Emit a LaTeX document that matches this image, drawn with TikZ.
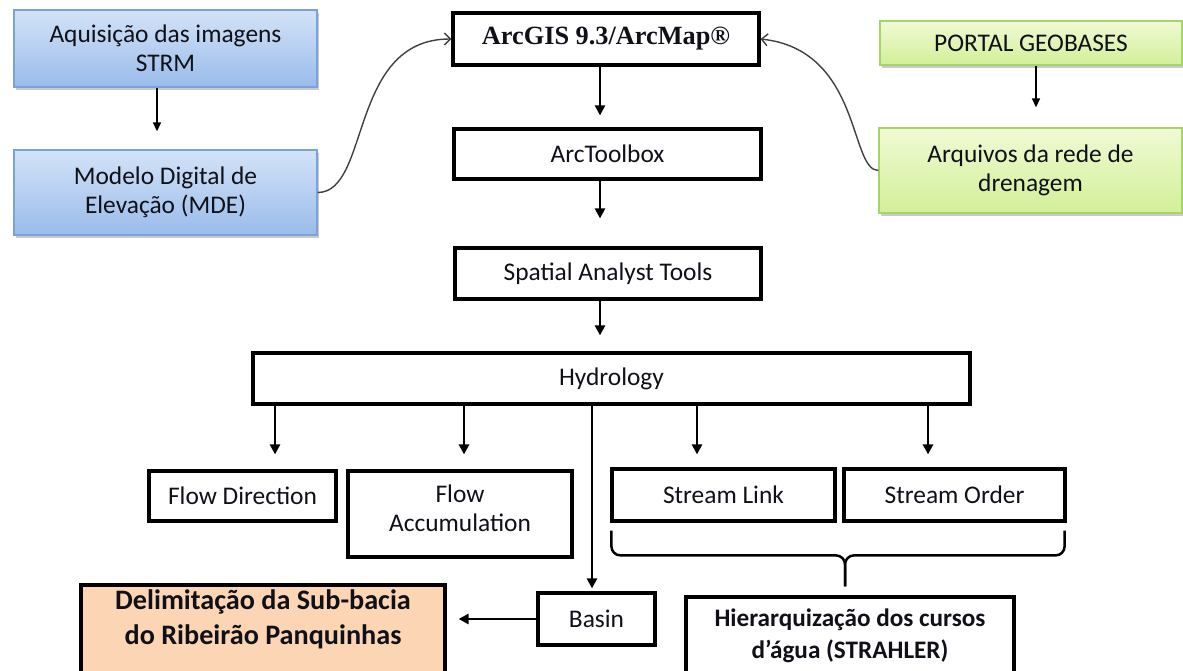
\documentclass[tikz,border=0pt]{standalone}
\usepackage{fontspec}
\setmainfont{Carlito}
\newfontfamily\timesfont{Liberation Serif}
\usetikzlibrary{arrows.meta,shadows}
\definecolor{bluetop}{HTML}{D3E3F8}
\definecolor{bluebot}{HTML}{9ABBEA}
\definecolor{blueline}{HTML}{7BA3DA}
\definecolor{greentop}{HTML}{F0FAD4}
\definecolor{greenbot}{HTML}{D2EF98}
\definecolor{greenline}{HTML}{A8D26A}
\definecolor{peach}{HTML}{FCD5B4}
\definecolor{txt}{HTML}{101018}
\begin{document}
\begin{tikzpicture}[x=1pt,y=-1pt,
  every node/.style={font=\fontsize{25.4}{29}\selectfont, text=txt, align=center, inner sep=0pt},
  box/.style={draw=black, line width=3.2pt, fill=white},
  bluebox/.style={draw=blueline, line width=1.3pt, top color=bluetop, bottom color=bluebot,
    drop shadow={shadow xshift=2pt, shadow yshift=-3pt, opacity=.35, fill=black!60}},
  greenbox/.style={draw=greenline, line width=1.3pt, top color=greentop, bottom color=greenbot,
    drop shadow={shadow xshift=2pt, shadow yshift=-3pt, opacity=.35, fill=black!60}},
  peachbox/.style={draw=black, line width=3.2pt, fill=peach},
  boldtxt/.style={font=\fontsize{28.2}{35}\selectfont\bfseries},
  arr/.style={line width=2.5pt, -{Triangle[length=10pt,width=10pt]}},
  thinarr/.style={line width=1.5pt, -{Triangle[length=9pt,width=8pt]}},
  curvearr/.style={line width=1.4pt, draw=black!75, -{Straight Barb[length=6pt,width=12pt]}},
  bracepath/.style={line width=2.5pt, rounded corners=9pt}
]
\useasboundingbox (0,0) rectangle (1183,671);

% left blue boxes
\node[bluebox, minimum width=303pt, minimum height=77pt] (aq) at (165.5,48.5) {Aquisição das imagens\\STRM};
\node[bluebox, minimum width=303pt, minimum height=85pt] (mde) at (165.5,192.5) {Modelo Digital de\\Elevação (MDE)};

% right green boxes
\node[greenbox, minimum width=302pt, minimum height=44pt] (portal) at (1031,43) {PORTAL GEOBASES};
\node[greenbox, minimum width=303pt, minimum height=85pt] (arq) at (1030.5,170.5) {Arquivos da rede de\\drenagem};

% central column
\node[box, minimum width=306pt, minimum height=52pt] (arcgis) at (606,39) {\timesfont\bfseries\fontsize{26.3}{30}\selectfont ArcGIS 9.3/ArcMap®};
\node[box, minimum width=307pt, minimum height=50pt] (atb) at (607.5,154) {ArcToolbox};
\node[box, minimum width=306pt, minimum height=51pt] (sat) at (608,273.5) {Spatial Analyst Tools};
\node[box, minimum width=717pt, minimum height=51pt] (hyd) at (611.5,378.5) {Hydrology};

% hydrology tools
\node[box, minimum width=187pt, minimum height=50pt] (fd) at (242.5,496) {Flow Direction};
\node[box, minimum width=224pt, minimum height=86pt] (fa) at (460,514) {};
\node (fatxt) at (460,508) {Flow\\Accumulation};
\node[box, minimum width=223pt, minimum height=52pt] (sl) at (723.5,495) {Stream Link};
\node[box, minimum width=221pt, minimum height=52pt] (so) at (954.5,495) {Stream Order};
\node[box, minimum width=117pt, minimum height=52pt] (basin) at (596.5,619) {Basin};

% results
\node[peachbox, minimum width=364pt, minimum height=95pt] (delim) at (263,632.5) {};
\node[boldtxt] (delimtxt) at (263,619.5) {Delimitação da Sub-bacia\\do Ribeirão Panquinhas};
\node[box, minimum width=328pt, minimum height=83pt] (hier) at (850,638.5) {};
\node[font=\fontsize{25.2}{32}\selectfont\bfseries] (hiertxt) at (850,636) {Hierarquização dos cursos\\d’água (STRAHLER)};

% left and right input arrows
\coordinate (c1) at ([xshift=-8.5pt]aq.south);
\draw[thinarr, shorten >=18pt] (c1) -- (c1 |- mde.north);
\coordinate (c2) at ([xshift=5pt]portal.south);
\draw[thinarr, shorten >=20pt] (c2) -- (c2 |- arq.north);

% curved arrows into ArcGIS
\draw[curvearr] (mde.east) .. controls +(53,0) and +(-103,0) .. (arcgis.west);
\draw[curvearr] (arq.west) .. controls +(-29,0) and +(101,11) .. (arcgis.east);

% central column arrows
\coordinate (c3) at ([xshift=-6pt]arcgis.south);
\draw[arr, shorten >=12pt] (c3) -- (c3 |- atb.north);
\coordinate (c4) at ([xshift=-7.5pt]atb.south);
\draw[arr, shorten >=28pt] (c4) -- (c4 |- sat.north);
\coordinate (c5) at ([xshift=-8pt]sat.south);
\draw[arr, shorten >=16pt] (c5) -- (c5 |- hyd.north);

% hydrology arrows
\coordinate (h1) at ([xshift=32.5pt]fd.north);
\draw[arr, shorten >=15pt] (h1 |- hyd.south) -- (h1);
\coordinate (h2) at ([xshift=4pt]fa.north);
\draw[arr, shorten >=15pt] (h2 |- hyd.south) -- (h2);
\coordinate (h3) at ([xshift=-26.5pt]sl.north);
\draw[arr, shorten >=13pt] (h3 |- hyd.south) -- (h3);
\coordinate (h4) at ([xshift=-26.5pt]so.north);
\draw[arr, shorten >=13pt] (h4 |- hyd.south) -- (h4);
\coordinate (h5) at ([xshift=-4.5pt]basin.north);
\draw[arr, shorten >=3pt] (h5 |- hyd.south) -- (h5);

% basin to delimitation
\draw[arr, shorten >=12pt] (basin.west) -- (basin.west -| delim.east);

% brace
\coordinate (brL) at ([xshift=1pt,yshift=-8pt]sl.south west);
\coordinate (brR) at ([xshift=-2pt,yshift=-8pt]so.south east);
\coordinate (brT) at ([xshift=-5pt,yshift=9pt]hier.north);
\coordinate (brM) at ([yshift=31pt]brT);
\draw[bracepath] (brL) -- (brL |- brM) -- (brM) -- (brT);
\draw[bracepath] (brR) -- (brR |- brM) -- (brM) -- (brT);
\end{tikzpicture}
\end{document}
